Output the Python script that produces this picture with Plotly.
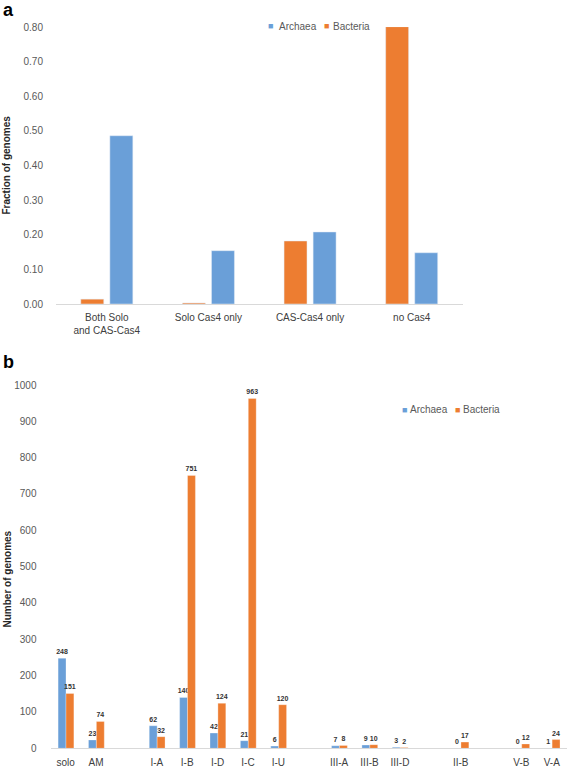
import plotly.graph_objects as go

# ---- Panel a data ----
a_categories = ["Both Solo<br>and CAS-Cas4", "Solo Cas4 only", "CAS-Cas4 only", "no Cas4"]
a_archaea = [0.486, 0.154, 0.208, 0.148]
a_bacteria = [0.014, 0.003, 0.182, 0.801]
a_ticks = [0.0, 0.1, 0.2, 0.3, 0.4, 0.5, 0.6, 0.7, 0.8]

# ---- Panel b data ----
b_categories = ["solo", "AM", " ", "I-A", "I-B", "I-D", "I-C", "I-U", "  ",
                "III-A", "III-B", "III-D", "   ", "II-B", "    ", "V-B", "V-A"]
b_archaea = [248, 23, None, 62, 140, 42, 21, 6, None, 7, 9, 3, None, 0, None, 0, 1]
b_bacteria = [151, 74, None, 32, 751, 124, 963, 120, None, 8, 10, 2, None, 17, None, 12, 24]
b_ticks = [0, 100, 200, 300, 400, 500, 600, 700, 800, 900, 1000]

series_names = ["Archaea", "Bacteria"]

BLUE = "#6A9FD8"
ORANGE = "#ED7D31"
TICKC = "#595959"
LABC = "#404040"
FONT = "Liberation Sans"
W, H = 567, 767

fig = go.Figure()

# panel a (Bacteria drawn left of Archaea)
fig.add_trace(go.Bar(x=a_categories, y=a_bacteria, name=series_names[1], marker_color=ORANGE,
                     width=0.226, offset=-0.256, xaxis="x", yaxis="y"))
fig.add_trace(go.Bar(x=a_categories, y=a_archaea, name=series_names[0], marker_color=BLUE,
                     width=0.226, offset=0.03, xaxis="x", yaxis="y"))

# panel b
def fmt(v):
    return "" if v is None else "<b>%d</b>" % v

label_font = dict(size=7, color="#333333", family="Liberation Sans")
fig.add_trace(go.Bar(x=b_categories, y=b_archaea, name=series_names[0], marker_color=BLUE,
                     width=0.26, offset=-0.25, xaxis="x2", yaxis="y2",
                     text=[fmt(v) for v in b_archaea], textposition="outside",
                     textfont=label_font, cliponaxis=False,
                     marker_line=dict(color="rgba(255,255,255,0.6)", width=0.5)))
fig.add_trace(go.Bar(x=b_categories, y=b_bacteria, name=series_names[1], marker_color=ORANGE,
                     width=0.26, offset=0.01, xaxis="x2", yaxis="y2",
                     text=[fmt(v) for v in b_bacteria], textposition="outside",
                     textfont=label_font, cliponaxis=False,
                     marker_line=dict(color="rgba(255,255,255,0.6)", width=0.5)))

def px_x(p):
    return p / W

def px_y(p):
    return 1 - p / H

axis_common = dict(showgrid=False, zeroline=False, automargin=False, ticks="")

annotations = [
    dict(text="<b>a</b>", x=px_x(1), y=px_y(-2), xanchor="left", yanchor="top",
         font=dict(size=18, color="black", family="Liberation Sans")),
    dict(text="<b>b</b>", x=px_x(1), y=px_y(350), xanchor="left", yanchor="top",
         font=dict(size=18, color="black", family="Liberation Sans")),
    dict(text="<b>Fraction of genomes</b>", x=px_x(-1), y=px_y(165), xanchor="left",
         yanchor="middle", textangle=-90, font=dict(size=10, color="#262626")),
    dict(text="<b>Number of genomes</b>", x=px_x(-1), y=px_y(579), xanchor="left",
         yanchor="middle", textangle=-90, font=dict(size=10, color="#262626")),
]

# legend entries (square swatch + name), positioned like the original legends
def legend_items(sq_x, text_x, yc):
    out = []
    for sx, tx, name, col in zip(sq_x, text_x, series_names, [BLUE, ORANGE]):
        out.append(dict(text="■", x=px_x(sx), y=px_y(yc), xanchor="left", yanchor="middle",
                        font=dict(size=9, color=col)))
        out.append(dict(text=name, x=px_x(tx), y=px_y(yc), xanchor="left", yanchor="middle",
                        font=dict(size=10, color=TICKC)))
    return out

annotations += legend_items([266, 322], [277, 331], 26)
annotations += legend_items([400, 453], [408, 461], 410)

for a in annotations:
    a.update(xref="paper", yref="paper", showarrow=False)

fig.update_layout(
    width=W, height=H,
    margin=dict(l=0, r=0, t=0, b=0),
    paper_bgcolor="white", plot_bgcolor="white",
    font=dict(family=FONT, size=10, color=TICKC),
    barmode="overlay",
    showlegend=False,
    uniformtext=dict(minsize=6, mode="show"),
    xaxis=dict(domain=[px_x(56), px_x(462.5)], anchor="y", showline=True, linecolor="#D9D9D9",
               linewidth=1, tickfont=dict(size=10, color=LABC), ticklabelstandoff=4,
               **axis_common),
    yaxis=dict(domain=[px_y(304), px_y(27)], anchor="x", range=[0, 0.8], tickvals=a_ticks,
               tickformat=".2f", showline=False, tickfont=dict(size=10, color=TICKC),
               ticklabelstandoff=12, **axis_common),
    xaxis2=dict(domain=[px_x(50.5), 1.0], anchor="y2", showline=True, linecolor="#D9D9D9",
                linewidth=1, tickfont=dict(size=10, color=LABC), ticklabelstandoff=5,
                **axis_common),
    yaxis2=dict(domain=[px_y(748.3), px_y(385)], anchor="x2", range=[0, 1000], tickvals=b_ticks,
                showline=False, tickfont=dict(size=10, color=TICKC), ticklabelstandoff=13,
                **axis_common),
    annotations=annotations,
)

fig.write_html("out.html", config={"displayModeBar": False},
               post_script="document.body.style.margin='0';document.body.style.padding='0';")
